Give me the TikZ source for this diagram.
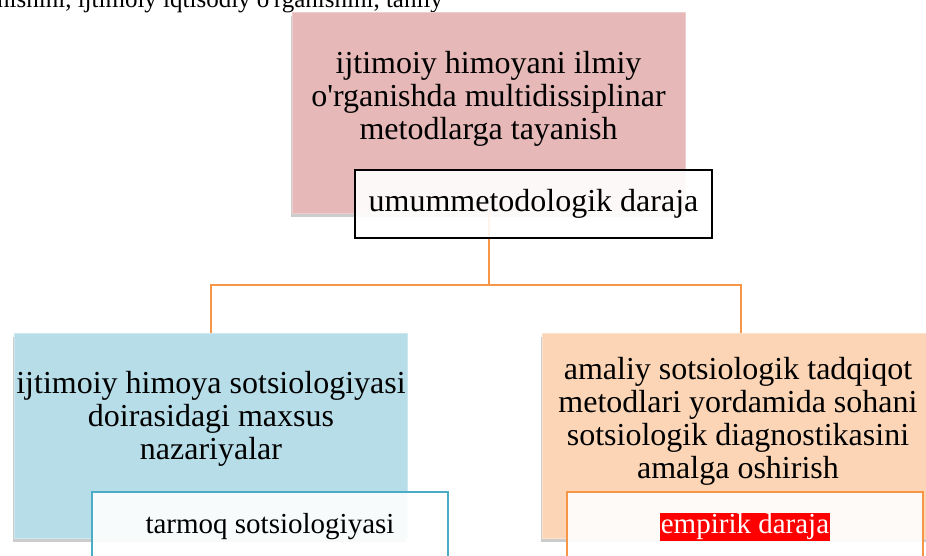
\documentclass[tikz,border=0pt]{standalone}
\usepackage{fontspec}
\setmainfont{Liberation Serif}
\usetikzlibrary{shadows}
\definecolor{pinkfill}{HTML}{E6B8B7}
\definecolor{bluefill}{HTML}{B7DDE8}
\definecolor{peachfill}{HTML}{FBD5B5}
\definecolor{orangeline}{HTML}{F79646}
\definecolor{tealline}{HTML}{4BACC6}

\begin{document}
\begin{tikzpicture}[x=1pt,y=-1pt,
  box/.style={draw=#1!70!white, fill=#1, inner sep=0pt, minimum height=205pt,
    drop shadow={shadow xshift=-1pt, shadow yshift=-4pt, opacity=.4}},
  lbl/.style={draw=#1, line width=1.5pt, fill=white, fill opacity=.9, text opacity=1,
    minimum width=356pt, inner sep=0pt},
  big/.style={font=\fontsize{32}{33}\selectfont, align=center},
  small/.style={font=\fontsize{29}{32}\selectfont},
  conn/.style={draw=orangeline, line width=2pt}]
\useasboundingbox (0,0) rectangle (926,555);
% line of text cut by the page top
\node (cut) [anchor=base west, inner sep=0pt, font=\fontsize{25}{27}\selectfont] at (-3,7)
  {nishini, ijtimoiy iqtisodiy o\textquotesingle rganishini, tahliy};
% upper block
\node (pink) [box=pinkfill, minimum width=393pt, minimum height=201pt] at (488.5,112.5) {};
\node (pinktxt) [big] at (488.5,99) {ijtimoiy himoyani ilmiy\\o\textquotesingle rganishda multidissiplinar\\metodlarga tayanish};
\coordinate (fork) at (488.5,285);
\draw [conn] (pink.south) -- (fork);
\draw [conn] (fork) -| (210.5,333);
\draw [conn] (fork) -| (741,333);
\node (general) [lbl=black, minimum width=357pt, minimum height=68pt, big] at (533.5,204) {umummetodologik daraja};
% lower blocks
\node (theory) [box=bluefill, minimum width=393pt] at (210.5,435.5) {};
\node (theorytxt) [big] at (211,419) {ijtimoiy himoya sotsiologiyasi\\doirasidagi maxsus\\nazariyalar};
\node (applied) [box=peachfill, minimum width=398pt] at (741,435.5) {};
\node (appliedtxt) [big] at (738,421) {amaliy sotsiologik tadqiqot\\metodlari yordamida sohani\\sotsiologik diagnostikasini\\amalga oshirish};
\node (branch) [lbl=tealline, minimum height=70pt, small] at (270,527) {tarmoq sotsiologiyasi};
\node (empiric) [lbl=orangeline, minimum height=70pt] at (745,527) {};
\node (emptxt) [small, fill=red, text=white, inner sep=1pt] at (745,527) {empirik daraja};
\end{tikzpicture}
\end{document}
